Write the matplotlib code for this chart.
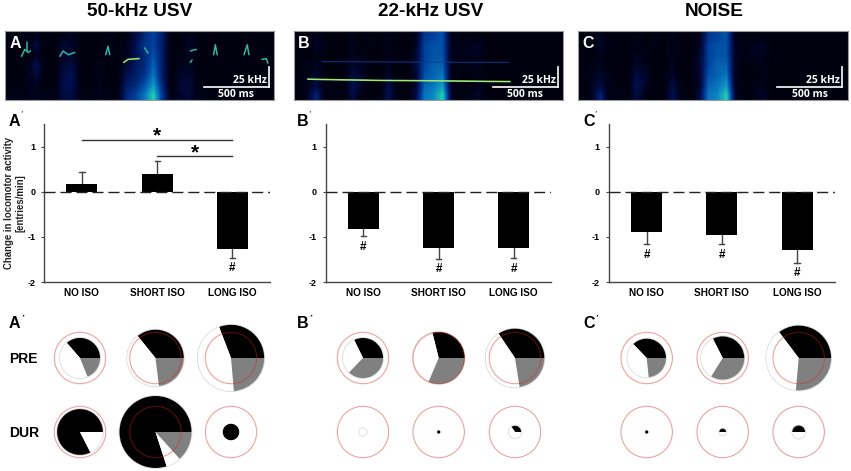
import numpy as np
import matplotlib
matplotlib.use("Agg")
import matplotlib.pyplot as plt
from matplotlib.colors import LinearSegmentedColormap

plt.rcParams["font.family"] = ["Liberation Sans", "DejaVu Sans"]

W, H = 851, 471

titles = ["50-kHz USV", "22-kHz USV", "NOISE"]
letters = ["A", "B", "C"]
groups = ["NO ISO", "SHORT ISO", "LONG ISO"]

# bars: mean change and the tip of the error bar, in entries/min
means_a = [0.16, 0.39, -1.27]
means_b = [-0.82, -1.25, -1.25]
means_c = [-0.90, -0.95, -1.30]
tips_a = [0.44, 0.67, -1.46]
tips_b = [-0.98, -1.48, -1.46]
tips_c = [-1.16, -1.15, -1.57]
hash_a = [None, None, -1.70]
hash_b = [-1.23, -1.72, -1.72]
hash_c = [-1.41, -1.41, -1.80]

# circles: radius relative to the red ring, then degrees of black / white / grey
radius_a = [[0.78, 1.10, 1.29], [0.89, 1.40, 0.32]]
radius_b = [[0.78, 1.01, 1.14], [0.14, 0.065, 0.24]]
radius_c = [[0.75, 0.84, 1.26], [0.065, 0.13, 0.25]]
angles_a = [[[131, 161, 68], [129, 148, 83], [111, 164, 85]],
            [[297, 63, 0], [288, 24, 48], [360, 0, 0]]]
angles_b = [[[116, 110, 134], [104, 143, 113], [124, 155, 81]],
            [[0, 360, 0], [360, 0, 0], [125, 235, 0]]]
angles_c = [[[134, 142, 84], [117, 121, 122], [127, 138, 95]],
            [[360, 0, 0], [180, 180, 0], [180, 180, 0]]]

spec_a = [
    [.05, .05, .08, .12, .05, .05, .10, .12, .05, .05, .05, .08, .05, .08, .20, .35, .45, .30, .05, .05, .12, .05, .05, .05, .05, .05, .05, .05, .05, .05],
    [.05, .05, .08, .20, .05, .05, .18, .15, .05, .05, .05, .10, .05, .10, .25, .40, .45, .30, .05, .05, .15, .08, .05, .05, .05, .05, .05, .05, .05, .05],
    [.05, .05, .05, .12, .05, .05, .15, .15, .05, .05, .05, .10, .05, .10, .25, .35, .50, .30, .05, .08, .12, .05, .05, .05, .05, .05, .05, .05, .05, .05],
    [.05, .05, .08, .25, .05, .05, .18, .20, .05, .05, .08, .05, .05, .18, .30, .35, .55, .30, .05, .10, .12, .05, .05, .05, .05, .05, .05, .05, .05, .05],
    [.05, .05, .10, .18, .05, .05, .22, .25, .05, .05, .10, .05, .05, .25, .30, .40, .60, .30, .05, .15, .15, .08, .05, .05, .05, .05, .05, .05, .05, .05],
    [.05, .05, .08, .12, .05, .05, .25, .25, .05, .05, .12, .05, .05, .30, .35, .50, .70, .35, .05, .18, .18, .08, .05, .05, .05, .05, .05, .05, .05, .05],
    [.10, .08, .10, .12, .08, .08, .22, .20, .08, .08, .12, .08, .08, .35, .45, .60, .85, .40, .08, .15, .18, .08, .08, .05, .05, .05, .05, .05, .05, .05],
]
spec_b = [
    [.05, .05, .12, .05, .05, .05, .08, .05, .08, .05, .08, .05, .05, .10, .40, .45, .50, .10, .05, .08, .05, .05, .05, .05, .05, .05, .05, .05, .05, .05],
    [.05, .05, .15, .08, .05, .05, .10, .05, .08, .05, .10, .05, .05, .12, .45, .50, .50, .12, .08, .10, .15, .05, .05, .05, .05, .05, .05, .05, .05, .05],
    [.05, .05, .10, .05, .05, .05, .12, .08, .05, .05, .10, .05, .05, .15, .45, .50, .50, .12, .10, .12, .12, .05, .05, .05, .05, .05, .05, .05, .05, .05],
    [.05, .08, .12, .05, .05, .05, .15, .12, .05, .05, .12, .05, .05, .18, .45, .55, .55, .12, .05, .08, .08, .05, .05, .05, .05, .05, .05, .05, .05, .05],
    [.05, .10, .15, .08, .05, .05, .20, .15, .05, .05, .15, .05, .05, .15, .50, .55, .60, .10, .05, .05, .08, .05, .05, .05, .05, .05, .05, .05, .05, .05],
    [.05, .12, .20, .08, .05, .05, .25, .15, .05, .05, .22, .08, .05, .15, .55, .60, .70, .12, .05, .08, .12, .05, .05, .05, .05, .05, .05, .05, .05, .05],
    [.05, .12, .35, .05, .10, .05, .22, .08, .05, .05, .25, .08, .05, .20, .60, .65, .85, .15, .05, .08, .15, .05, .05, .05, .05, .05, .05, .05, .05, .05],
]
spec_c = spec_b

# calls: time in ms, frequency in kHz
calls_a = [
    ([131, 156, 182, 200], [57, 66, 62, 64]),
    ([177, 177], [75, 64]),
    ([426, 451, 490, 541], [57, 64, 59, 62]),
    ([779, 797, 810], [59, 70, 59]),
    ([918, 951, 1036], [49, 53, 54]),
    ([1079, 1105], [68, 61]),
    ([1431, 1477], [64, 66]),
    ([1431, 1444], [49, 52]),
    ([1610, 1623, 1638], [59, 72, 59]),
    ([1844, 1869, 1882], [59, 72, 59]),
    ([1982, 2015, 2028], [53, 54, 48]),
]
calls_b = [([110, 300, 700, 1100, 1667], [27.2, 26.5, 25.5, 25, 24])]
harmonic_b = ([218, 1654], [50, 49])
calls_c = []

panels = [
    dict(spec=spec_a, calls=calls_a, means=means_a, tips=tips_a, hashes=hash_a,
         radius=radius_a, angles=angles_a, sx=4.5, bx=44.3, cx=[80, 155.5, 231],
         tx=140, lx=9),
    dict(spec=spec_b, calls=calls_b, means=means_b, tips=tips_b, hashes=hash_b,
         radius=radius_b, angles=angles_b, sx=293.5, bx=325.7, cx=[363, 438.7, 515],
         tx=431, lx=297),
    dict(spec=spec_c, calls=calls_c, means=means_c, tips=tips_c, hashes=hash_c,
         radius=radius_c, angles=angles_c, sx=578, bx=609, cx=[646.7, 722.7, 798.7],
         tx=714, lx=583),
]

cmap = LinearSegmentedColormap.from_list(
    "spec", [(0, "#000006"), (.1, "#000218"), (.25, "#000f50"), (.45, "#00409c"),
             (.65, "#0c86c4"), (.85, "#25cfae"), (1, "#e0f040")])

RING = 25.7
ROW_Y = [358, 432]

fig = plt.figure(figsize=(W / 100, H / 100), dpi=100, facecolor="white")


def px_axes(x, y, w, h):
    # y is measured from the top of the picture
    return fig.add_axes([x / W, 1 - (y + h) / H, w / W, h / H])


def prime(x, y, n, size=9):
    fig.text(x / W, 1 - y / H, "\u2032" * n, fontsize=size, style="italic",
             ha="left", va="center")


def draw_spec(p, letter):
    ax = px_axes(p["sx"], 31, 269.5, 69)
    ax.imshow(p["spec"], cmap=cmap, vmin=0, vmax=1, aspect="auto",
              interpolation="bilinear", extent=[0, 2075, 0, 90])
    for t, f in p["calls"]:
        if letter == "B":
            ax.plot(t, f, color="#50d890", lw=1.2, solid_capstyle="round")
            ax.plot(t, f, color="#e8e840", lw=0.5)
        elif len(t) == 3 and t[0] == 918:
            ax.plot(t, f, color="#90e060", lw=1.2, solid_capstyle="round")
        else:
            ax.plot(t, f, color="#2fb8a0", lw=1.1, solid_capstyle="round")
    if letter == "B":
        ax.plot(*harmonic_b, color="#0c3a8c", lw=0.7)
    ax.set_xlim(0, 2075)
    ax.set_ylim(0, 90)
    ax.set_xticks([])
    ax.set_yticks([])
    for s in ax.spines.values():
        s.set_color("#999999")
        s.set_linewidth(0.8)
    # scale bars 500 ms / 25 kHz
    ax.plot([1535, 2035], [17.5, 17.5], color="white", lw=1.2)
    ax.plot([2035, 2035], [17.5, 42.5], color="white", lw=1.2)
    ax.text(2020, 26, "25 kHz", color="white", fontsize=7.5, fontweight="bold",
            family="Open Sans", ha="right", va="center")
    ax.text(1785, 7.5, "500 ms", color="white", fontsize=7.5, fontweight="bold",
            family="Open Sans", ha="center", va="center")
    ax.text(0.018, 0.82, letter, color="white", fontsize=11.5, fontweight="bold",
            transform=ax.transAxes, ha="left", va="center")


def draw_bars(p, letter):
    ax = px_axes(p["bx"], 124, 225.7, 158)
    xs = np.arange(3)
    ax.bar(xs, p["means"], width=0.41, color="black", zorder=3)
    for x, m, t in zip(xs, p["means"], p["tips"]):
        ax.plot([x, x], [m, t], color="#444444", lw=1, zorder=2)
        ax.plot([x - 0.035, x + 0.035], [t, t], color="#444444", lw=1, zorder=2)
    ax.axhline(0, color="#222222", lw=1, dashes=(8, 3.5), zorder=4)
    for x, h in zip(xs, p["hashes"]):
        if h is not None:
            ax.text(x, h, "#", fontsize=8.5, fontweight="bold", ha="center", va="center")
    ax.set_xlim(-0.5, 2.5)
    ax.set_ylim(-2, 1.5)
    ax.set_xticks(xs)
    ax.set_xticklabels(groups, fontsize=7.2, fontweight="bold")
    ax.set_yticks([-2, -1, 0, 1])
    ax.set_yticklabels(["-2", "-1", "0", "1"], fontsize=6.5, fontweight="bold")
    ax.tick_params(axis="x", length=0, pad=4.5)
    ax.tick_params(axis="y", length=2.5, width=0.8, color="#444444", pad=4)
    ax.spines["top"].set_visible(False)
    ax.spines["right"].set_visible(False)
    for s in ("left", "bottom"):
        ax.spines[s].set_color("#444444")
        ax.spines[s].set_linewidth(1)
    ax.patch.set_visible(False)
    if letter == "A":
        ax.plot([0, 2], [1.155, 1.155], color="#333333", lw=1)
        ax.plot([1, 2], [0.80, 0.80], color="#333333", lw=1)
        ax.text(1.0, 1.23, "*", fontsize=15, fontweight="bold", ha="center", va="center")
        ax.text(1.5, 0.85, "*", fontsize=15, fontweight="bold", ha="center", va="center")
        ax.set_ylabel("Change in locomotor activity\n[entries/min]", fontsize=6.9,
                      fontweight="bold", color="#222222", linespacing=1.2)
        ax.yaxis.set_label_coords(-0.083, 0.5)


# full picture axes in pixels, for the circles
pie_ax = fig.add_axes([0, 0, 1, 1], zorder=5)
pie_ax.patch.set_visible(False)


def draw_pies(p):
    for row, y in enumerate(ROW_Y):
        for col, x in enumerate(p["cx"]):
            r = p["radius"][row][col] * RING
            c = (x, H - y)
            has_white = p["angles"][row][col][1] > 0
            if has_white:
                pie_ax.add_patch(plt.Circle(c, r + 0.3, fc="none", ec="#dddddd", lw=0.9, zorder=1))
            sizes = p["angles"][row][col]
            pie_ax.pie(sizes, colors=["black", "white", "#808080"], radius=r, center=c,
                       startangle=0, counterclock=True, frame=True,
                       wedgeprops=dict(linewidth=0, zorder=2))
            pie_ax.add_patch(plt.Circle(c, RING, fc="none", ec="#d82020", alpha=0.42,
                                        lw=0.8, zorder=3))


for p, letter, title in zip(panels, letters, titles):
    fig.text(p["tx"] / W, 1 - 11.5 / H, title, fontsize=13.7, fontweight="bold",
             ha="center", va="center")
    draw_spec(p, letter)
    draw_bars(p, letter)
    draw_pies(p)
    fig.text(p["lx"] / W, 1 - 121.5 / H, letter, fontsize=11.5, fontweight="bold",
             ha="left", va="center")
    prime(p["lx"] + 11.5, 114, 1, 6)
    fig.text(p["lx"] / W, 1 - 323.5 / H, letter, fontsize=11.5, fontweight="bold",
             ha="left", va="center")
    prime(p["lx"] + 12, 318, 2, 6)

fig.text(9 / W, 1 - (ROW_Y[0] + 1) / H, "PRE", fontsize=10, fontweight="bold", ha="left", va="center")
fig.text(9 / W, 1 - (ROW_Y[1] + 1) / H, "DUR", fontsize=10, fontweight="bold", ha="left", va="center")

pie_ax.set_xlim(0, W)
pie_ax.set_ylim(0, H)
pie_ax.set_aspect("equal")
pie_ax.set_xticks([])
pie_ax.set_yticks([])
pie_ax.axis("off")

fig.savefig("out.png", dpi=100)
